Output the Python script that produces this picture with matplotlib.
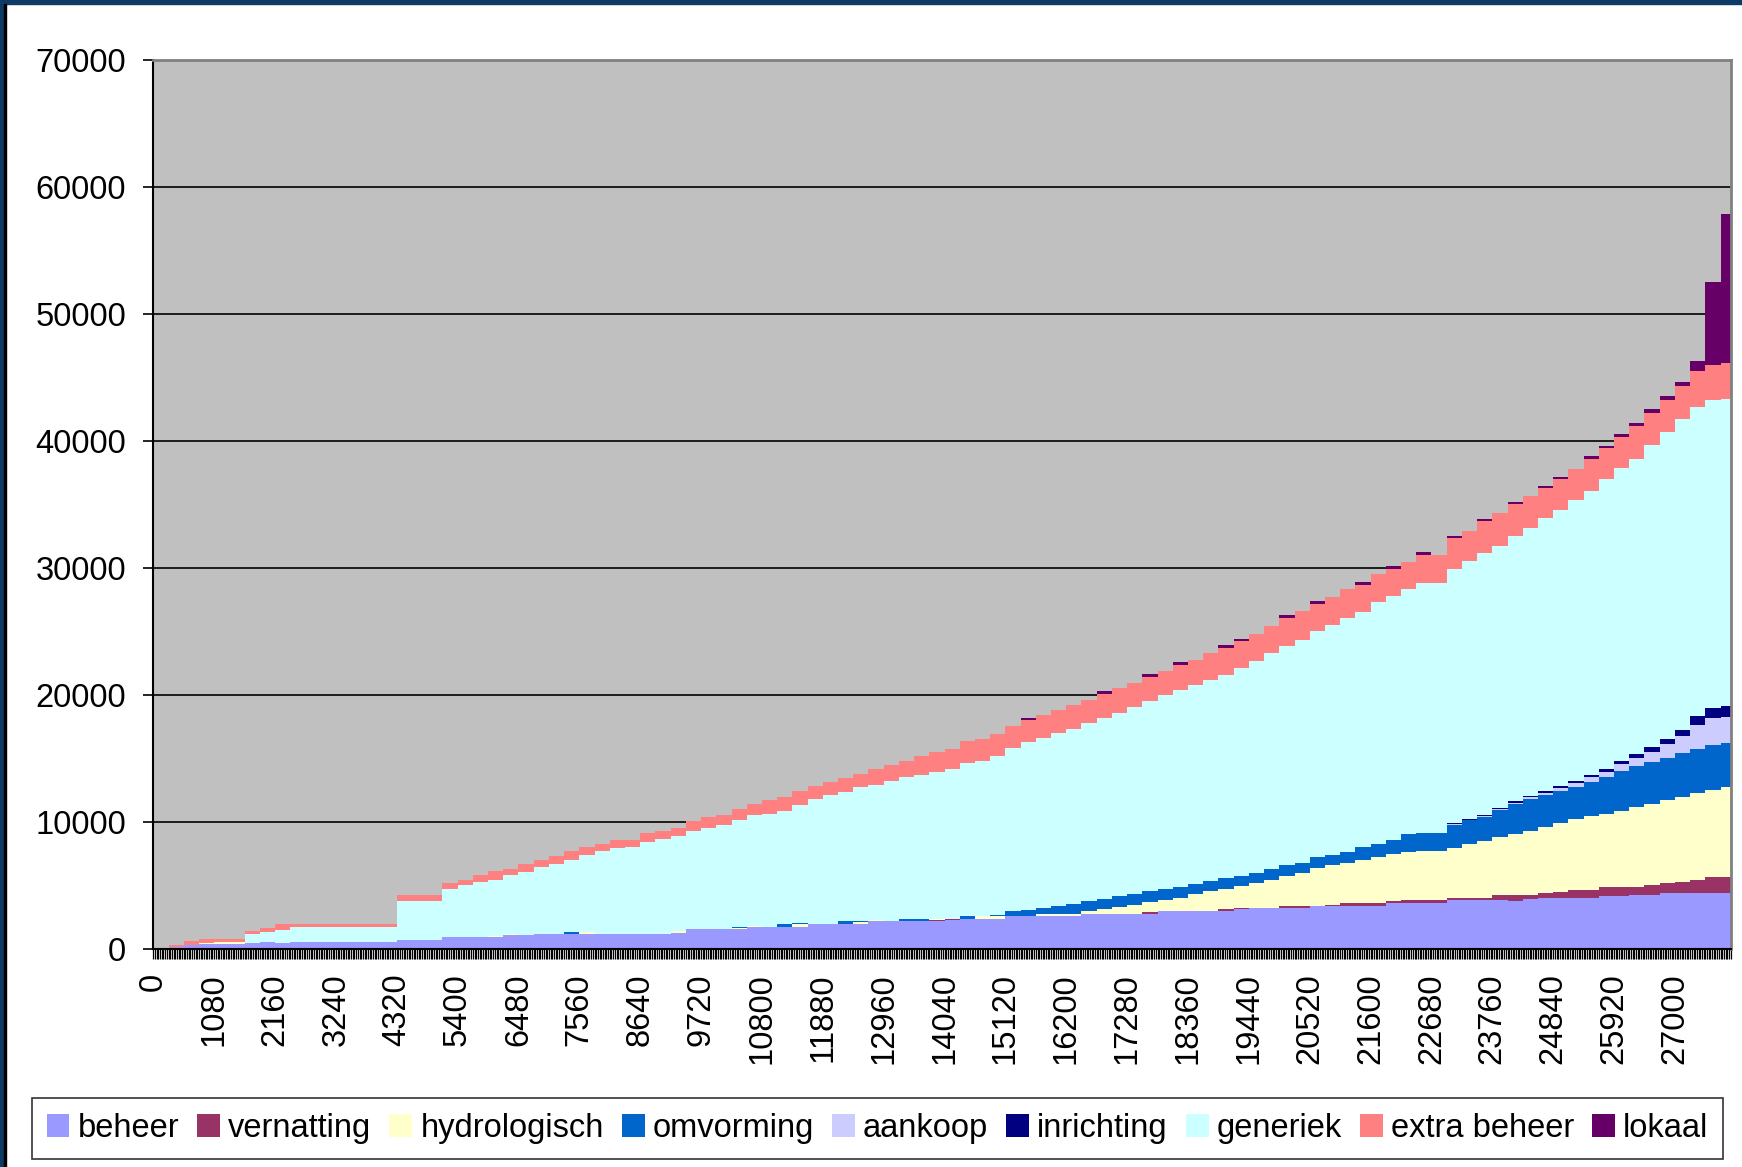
import numpy as np
import matplotlib
matplotlib.use("Agg")
from matplotlib import pyplot as plt
from matplotlib.patches import Rectangle
from matplotlib.ticker import MultipleLocator

plt.rcParams['font.family'] = ['Liberation Sans', 'DejaVu Sans']

# categories: one bar per 270 units of the category axis
STEP = 270
cats = np.arange(0, 104) * STEP

beheer = [
    0, 120, 300, 370, 370, 370, 450, 550, 500, 550, 550, 550, 550,
    550, 550, 550, 700, 700, 700, 940, 940, 940, 940, 1100, 1100, 1180,
    1190, 1190, 1190, 1190, 1190, 1190, 1190, 1190, 1290, 1580, 1580, 1580, 1580,
    1740, 1740, 1740, 1740, 1980, 1980, 1980, 1980, 2210, 2210, 2210, 2210, 2210,
    2250, 2370, 2370, 2370, 2580, 2610, 2610, 2610, 2610, 2770, 2770, 2770, 2770,
    2770, 3000, 3000, 3000, 3000, 3000, 3170, 3240, 3240, 3240, 3240, 3350, 3400,
    3400, 3400, 3400, 3600, 3640, 3640, 3640, 3870, 3870, 3870, 3830, 3790, 3900,
    4030, 4030, 4030, 4030, 4190, 4190, 4230, 4270, 4430, 4430, 4430, 4430, 4430]

vernatting = [
    0, 0, 0, 0, 0, 0, 0, 0, 0, 0, 0, 0, 0,
    0, 0, 0, 0, 0, 0, 0, 0, 0, 0, 0, 0, 0,
    0, 0, 0, 0, 0, 0, 0, 0, 0, 0, 0, 0, 0,
    0, 0, 0, 0, 0, 0, 0, 0, 0, 0, 0, 0, 80,
    120, 0, 0, 0, 0, 0, 0, 0, 0, 0, 0, 0, 0,
    120, 0, 0, 0, 0, 160, 50, 0, 0, 160, 160, 50, 60,
    240, 240, 240, 190, 180, 240, 240, 160, 160, 160, 390, 470, 340,
    370, 480, 630, 630, 710, 710, 650, 790, 760, 870, 1030, 1270, 1270]

hydrologisch = [
    0, 0, 0, 100, 160, 160, 50, 0, 0, 0, 0, 0, 0,
    0, 0, 0, 0, 0, 0, 0, 0, 0, 100, 80, 0, 0,
    0, 0, 150, 0, 0, 0, 0, 0, 100, 0, 0, 0, 60,
    60, 0, 0, 200, 0, 0, 0, 150, 100, 0, 0, 0, 80,
    0, 0, 240, 240, 0, 0, 160, 160, 160, 200, 350, 530, 680,
    810, 880, 1030, 1330, 1550, 1580, 1730, 1960, 2210, 2370, 2550, 3000, 3140,
    3100, 3370, 3610, 3720, 3800, 3870, 3870, 3950, 4230, 4450, 4560, 4800, 5090,
    5190, 5420, 5540, 5850, 5740, 5980, 6270, 6320, 6510, 6690, 6790, 6820, 7030]

omvorming = [
    0, 40, 0, 0, 0, 0, 0, 0, 0, 0, 0, 0, 0,
    0, 0, 0, 0, 0, 0, 0, 0, 0, 0, 0, 0, 0,
    0, 120, 0, 0, 0, 0, 0, 0, 50, 0, 0, 0, 80,
    0, 0, 240, 100, 0, 0, 240, 100, 0, 0, 120, 160, 0,
    0, 240, 0, 100, 420, 480, 470, 630, 780, 830, 830, 850, 900,
    830, 820, 870, 820, 820, 830, 820, 800, 870, 830, 830, 830, 830,
    930, 990, 1030, 1110, 1400, 1420, 1420, 1820, 1860, 1920, 2130, 2320, 2450,
    2500, 2500, 2580, 2660, 2900, 3140, 3270, 3350, 3370, 3430, 3480, 3580, 3480]

aankoop = [
    0, 0, 0, 0, 0, 0, 0, 0, 0, 0, 0, 0, 0,
    0, 0, 0, 0, 0, 0, 0, 0, 0, 0, 0, 0, 0,
    0, 0, 0, 0, 0, 0, 0, 0, 0, 0, 0, 0, 0,
    0, 0, 0, 0, 0, 0, 0, 0, 0, 0, 0, 0, 0,
    0, 0, 0, 0, 0, 0, 0, 0, 0, 0, 0, 0, 0,
    0, 0, 0, 0, 0, 0, 0, 0, 0, 0, 0, 0, 0,
    0, 0, 0, 0, 0, 0, 0, 40, 60, 80, 100, 130, 160,
    200, 240, 280, 350, 430, 520, 650, 800, 1050, 1370, 1900, 2050, 2050]

inrichting = [
    0, 0, 0, 0, 0, 0, 0, 0, 0, 0, 0, 0, 0,
    0, 0, 0, 0, 0, 0, 0, 0, 0, 0, 0, 0, 0,
    0, 0, 0, 0, 0, 0, 0, 0, 0, 0, 0, 0, 0,
    0, 0, 0, 0, 0, 0, 0, 0, 0, 0, 0, 0, 0,
    0, 0, 0, 0, 0, 0, 0, 0, 0, 0, 0, 0, 0,
    0, 0, 0, 0, 0, 0, 0, 0, 0, 0, 0, 0, 0,
    0, 0, 0, 0, 0, 0, 0, 80, 80, 100, 100, 120, 120,
    140, 150, 170, 190, 220, 260, 300, 350, 400, 450, 750, 850, 870]

generiek = [
    0, 0, 50, 0, 0, 0, 650, 800, 1000, 1180, 1180, 1180, 1180,
    1180, 1180, 1180, 3070, 3070, 3070, 3750, 4090, 4360, 4400, 4630, 4970, 5290,
    5470, 5730, 6090, 6510, 6790, 6820, 7250, 7510, 7490, 7690, 7930, 8190, 8450,
    8770, 8880, 8880, 9320, 9800, 10170, 10170, 10520, 10630, 10990, 11210, 11310, 11600,
    11780, 12070, 12170, 12490, 12860, 13170, 13390, 13570, 13810, 13990, 14260, 14450, 14700,
    15000, 15270, 15500, 15640, 15820, 16040, 16360, 16710, 17000, 17250, 17590, 17780, 18100,
    18380, 18500, 19070, 19180, 19290, 19620, 19650, 20030, 20290, 20570, 20630, 20860, 21090,
    21470, 21770, 22160, 22370, 22790, 23070, 23250, 23790, 24190, 24520, 24280, 24200, 24190]

extra_beheer = [
    100, 150, 250, 300, 260, 260, 250, 300, 450, 250, 250, 250, 250,
    250, 250, 250, 470, 470, 470, 500, 390, 550, 700, 520, 660, 570,
    680, 690, 610, 600, 610, 610, 690, 630, 610, 770, 850, 820, 840,
    870, 1080, 1080, 1080, 1050, 1000, 1060, 1030, 1260, 1270, 1290, 1520, 1550,
    1580, 1660, 1740, 1720, 1720, 1760, 1820, 1870, 1820, 1810, 1870, 1930, 1900,
    1890, 1930, 1970, 2000, 2130, 2110, 2090, 2110, 2110, 2210, 2270, 2180, 2160,
    2280, 2200, 2150, 2150, 2150, 2240, 2240, 2390, 2390, 2540, 2610, 2540, 2480,
    2420, 2390, 2430, 2540, 2450, 2460, 2540, 2540, 2550, 2540, 2840, 2810, 2840]

lokaal = [
    0, 0, 0, 0, 0, 0, 0, 0, 0, 0, 0, 0, 0,
    0, 0, 0, 0, 0, 0, 0, 0, 0, 0, 0, 0, 0,
    0, 0, 0, 0, 0, 0, 0, 0, 0, 0, 0, 0, 0,
    0, 0, 0, 0, 0, 0, 0, 0, 0, 0, 0, 0, 0,
    0, 0, 0, 0, 0, 200, 0, 0, 0, 0, 200, 0, 0,
    200, 0, 200, 0, 0, 200, 200, 0, 0, 200, 0, 200, 0,
    0, 200, 0, 200, 0, 200, 0, 150, 0, 150, 0, 150, 0,
    150, 150, 0, 200, 200, 250, 250, 300, 300, 350, 800, 6500, 11740]

labels = ["beheer", "vernatting", "hydrologisch", "omvorming", "aankoop",
          "inrichting", "generiek", "extra beheer", "lokaal"]
series = [beheer, vernatting, hydrologisch, omvorming, aankoop,
          inrichting, generiek, extra_beheer, lokaal]
colors = ["#9999FF", "#993366", "#FFFFCC", "#0066CC", "#CCCCFF",
          "#000080", "#CCFFFF", "#FF8080", "#660066"]

W, H = 1742, 1167
fig = plt.figure(figsize=(W / 100, H / 100), dpi=100)
ax = fig.add_axes([153.3 / W, 218 / H, 1577.4 / W, 889 / H])
ax.set_facecolor("#C0C0C0")

bottom = np.zeros(len(cats))
handles = []
for vals, lab, col in zip(series, labels, colors):
    vals = np.array(vals, dtype=float)
    b = ax.bar(cats, vals, width=STEP, bottom=bottom, align="edge",
               color=col, linewidth=0, antialiased=False, label=lab, zorder=2)
    handles.append(b)
    bottom = bottom + vals

ax.set_xlim(0, 27990)
ax.set_ylim(0, 70000)
ax.set_yticks(np.arange(0, 70001, 10000))
ax.set_xticks(np.arange(0, 27990, 1080))
ax.xaxis.set_minor_locator(MultipleLocator(30))
ax.tick_params(axis="x", which="both", direction="out", length=7.5, width=0.9,
               color="black", labelsize=23.5, labelrotation=90, pad=10)
ax.tick_params(axis="y", direction="out", length=7.5, width=1.2,
               labelsize=23.5, pad=12)
ax.grid(axis="y", color="black", linewidth=1.2, zorder=1)
ax.set_axisbelow(True)

for s in ("left", "bottom"):
    ax.spines[s].set_color("black")
    ax.spines[s].set_linewidth(1.5)
for s in ("top", "right"):
    ax.spines[s].set_color("#808080")
    ax.spines[s].set_linewidth(2)

leg = ax.legend(handles, labels, ncol=9, loc="center",
                bbox_to_anchor=(877.5 / W, 38.5 / H), bbox_transform=fig.transFigure,
                fontsize=23.5, frameon=True, fancybox=False, edgecolor="black",
                handlelength=0.7, handleheight=0.7, handletextpad=0.25,
                columnspacing=0.55, borderpad=0.45, borderaxespad=0)
leg.get_frame().set_linewidth(1.2)

# window frame of the original screenshot
fig.patches.append(Rectangle((0, 1 - 4 / H), 1, 4 / H, transform=fig.transFigure,
                             color="#0d3b66", zorder=0))
fig.patches.append(Rectangle((0, 0), 4 / W, 1, transform=fig.transFigure,
                             color="#0d3b66", zorder=0))
fig.patches.append(Rectangle((4 / W, 0), 2 / W, 1 - 4 / H, transform=fig.transFigure,
                             color="black", zorder=0))

fig.savefig("out.png", dpi=100)
